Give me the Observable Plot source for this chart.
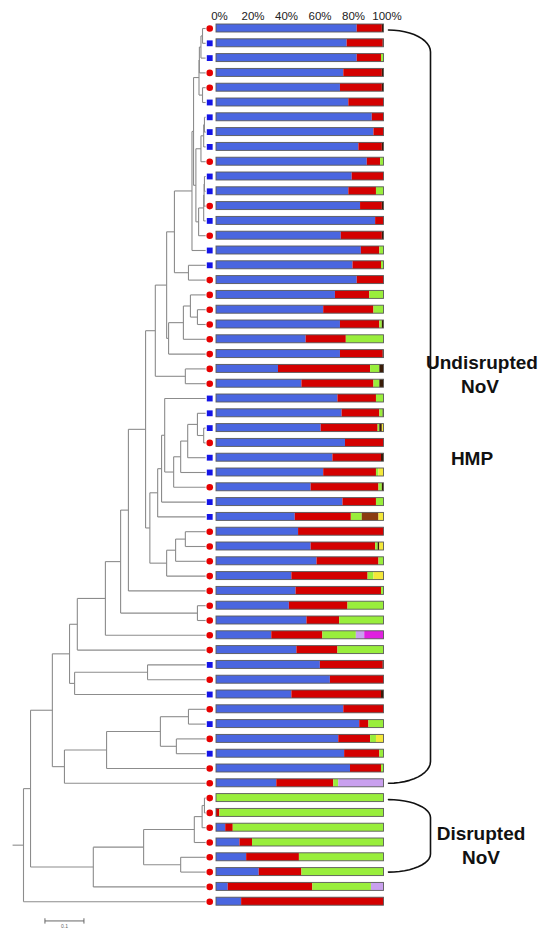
<!DOCTYPE html>
<html><head><meta charset="utf-8">
<script src="https://cdn.jsdelivr.net/npm/d3@7"></script>
<script src="https://cdn.jsdelivr.net/npm/@observablehq/plot@0.6"></script>
<style>
body{margin:0;background:#fff;}
#chart{position:relative;width:552px;height:930px;font-family:"Liberation Sans",Arial,sans-serif;overflow:hidden;}
#chart svg{position:absolute;left:0;top:0;}
.lab{position:absolute;width:140px;font-weight:bold;font-size:19px;color:#111;text-align:center;line-height:23px;}
</style></head><body><div id="chart"></div>
<script>
// ---------- data ----------
const seriesNames  = ["blue","red","green","dark","brown","yellow","lavender","magenta"];
const seriesColors = ["#4a66e0","#d40000","#99ee3c","#3a1c08","#8a3a10","#f4e83a","#c9a0ee","#e020e0"];
const pctTicks = [0,20,40,60,80,100];

const blue = [84,78,84,76,74,79,93,94,85,90, 81,79,86,95,74.5,86.5,81.5,84,71,64, 74,53.5,74,37,51,72.5,75,62.5,77,69.5, 64,56.5,75.5,47,49,56.5,60,45,47.5,43.5, 54,33,48,62,68,45,76,85.5,73,76.5, 80,36,0,0,5.5,14,18,25.5,7,15];
const red = [15,21.5,14.5,23,25,21,7,6,14,8, 19,16.5,13,5,24.5,11,17,16,20.5,30, 23.5,24,25.5,55,43,23,22.5,34,23,29, 31.5,40.5,20,33.5,51,38.5,37,45.5,51,35, 19.5,30.5,24.5,37.5,32,53.5,24,5.5,19,21, 18.5,34,0,2,4.5,7.5,31.5,25.5,50.5,85];
const green = [0,0,1.5,0,0,0,0,0,0,2, 0,4.5,0,0,0,2.5,1.5,0,8.5,6, 1.5,22.5,0,5.5,3.5,4.5,2,1,0,0, 1.5,2,4.5,6.5,0,1.5,3,3.5,1.5,21.5, 26.5,20,27.5,0,0,0,0,9,3.5,2.5, 1.5,3,100,98,90,78.5,50.5,49,35,0];
const dark = [1,0.5,0,1,1,0,0,0,1,0, 0,0,1,0,1,0,0,0,0,0, 1,0,0.5,2.5,2.5,0,0.5,1.5,0,1.5, 0,1,0,0,0,1,0,0,0,0, 0,0,0,0.5,0,1.5,0,0,0,0, 0,0,0,0,0,0,0,0,0,0];
const brown = [0,0,0,0,0,0,0,0,0,0, 0,0,0,0,0,0,0,0,0,0, 0,0,0,0,0,0,0,0,0,0, 0,0,0,10,0,0,0,0,0,0, 0,0,0,0,0,0,0,0,0,0, 0,0,0,0,0,0,0,0,0,0];
const yellow = [0,0,0,0,0,0,0,0,0,0, 0,0,0,0,0,0,0,0,0,0, 0,0,0,0,0,0,0,1,0,0, 3,0,0,3,0,2.5,0,6,0,0, 0,0,0,0,0,0,0,0,4.5,0, 0,0,0,0,0,0,0,0,0,0];
const lavender = [0,0,0,0,0,0,0,0,0,0, 0,0,0,0,0,0,0,0,0,0, 0,0,0,0,0,0,0,0,0,0, 0,0,0,0,0,0,0,0,0,0, 0,5,0,0,0,0,0,0,0,0, 0,27,0,0,0,0,0,0,7.5,0];
const magenta = [0,0,0,0,0,0,0,0,0,0, 0,0,0,0,0,0,0,0,0,0, 0,0,0,0,0,0,0,0,0,0, 0,0,0,0,0,0,0,0,0,0, 0,11.5,0,0,0,0,0,0,0,0, 0,0,0,0,0,0,0,0,0,0];

// sample type per row: c = red circle, s = blue square
const sampleType = ("cssccssssc" + "sscscssccc" + "cccccssscs" + "scsscccccc" + "cccscscscs" + "cccccccccc").split("");

// tree: [node, depth (branch-length units), child, child]; numbers are leaf rows
const tipDepth = 0.467;
const rootStem = 0.028;
const treeNodes = [
  ["n01",0.459,0,1], ["n2",0.455,"n01",2], ["n3",0.451,"n2",3], ["n45",0.459,4,5], ["n0_5",0.450,"n3","n45"],
  ["n67",0.464,6,7], ["n8",0.462,"n67",8], ["n9",0.455,"n8",9],
  ["n1011",0.464,10,11], ["n1012",0.463,"n1011",12], ["n1013",0.462,"n1012",13], ["n14",0.449,"n1013",14],
  ["n6_14",0.442,"n9","n14"], ["n0_14",0.436,"n0_5","n6_14"], ["n0_15",0.432,"n0_14",15],
  ["n1617",0.423,16,17], ["AA",0.387,"n0_15","n1617"],
  ["n1920",0.446,19,20], ["n18",0.428,18,"n1920"], ["n21",0.410,"n18",21], ["n22",0.372,"n21",22],
  ["EE",0.367,"AA","n22"], ["BB",0.415,23,24], ["CC",0.338,"EE","BB"],
  ["n2728",0.462,27,28], ["n26",0.446,26,"n2728"], ["n29",0.421,"n26",29], ["n30",0.403,"n29",30],
  ["n31",0.385,"n30",31], ["n25",0.362,25,"n31"], ["n32",0.354,"n25",32], ["n33",0.344,"n32",33],
  ["n3435",0.415,34,35], ["n36",0.390,"n3435",36], ["n37",0.367,"n36",37],
  ["X",0.324,"n33","n37"], ["W",0.313,"CC","X"], ["U",0.269,"W",38], ["V",0.446,39,40],
  ["T",0.249,"U","V"], ["R",0.210,"T",41], ["O",0.138,"R",42], ["Q",0.318,43,44], ["P",0.131,"Q",45],
  ["I",0.118,"O","P"], ["M",0.423,46,47], ["N",0.392,48,49], ["L",0.351,"M","N"], ["K",0.213,"L",50],
  ["J",0.105,"K",51], ["B",0.074,"I","J"],
  ["H",0.464,52,53], ["G",0.458,"H",54], ["E",0.438,"G",55], ["F",0.403,56,57], ["D",0.308,"E","F"],
  ["C",0.179,"D",58], ["A",0.018,"B","C"], ["root",0,"A",59]
];
const scaleBar = {start: 0.055, length: 0.1, label: "0.1", row: 60.3};

const groups = [
  {label: "Undisrupted NoV", from: 0, to: 51},
  {label: "Disrupted NoV", from: 52, to: 57}
];
const annotations = [
  {text: "Undisrupted", x: 482, y: 362},
  {text: "NoV", x: 480, y: 386},
  {text: "HMP", x: 472, y: 458},
  {text: "Disrupted", x: 481, y: 833},
  {text: "NoV", x: 481, y: 857}
];

// ---------- build ----------
const rowIds = d3.range(blue.length);
const seriesVals = {blue, red, green, dark, brown, yellow, lavender, magenta};
const table = [];
for (const s of seriesNames) for (const i of rowIds) if (seriesVals[s][i] > 0) table.push({row: i, series: s, value: seriesVals[s][i]});

// tree geometry
const nodeMap = new Map(treeNodes.map(d => [d[0], d]));
const pos = new Map();
function place(id) {
  if (typeof id === "number") return {x: tipDepth, y: id};
  if (pos.has(id)) return pos.get(id);
  const [, depth, a, b] = nodeMap.get(id);
  const pa = place(a), pb = place(b);
  const p = {x: depth, y: (pa.y + pb.y) / 2};
  pos.set(id, p);
  return p;
}
const segs = [];
for (const [id, depth, a, b] of treeNodes) {
  const pa = place(a), pb = place(b);
  place(id);
  segs.push({x1: depth, x2: depth, y1: pa.y, y2: pb.y});
  segs.push({x1: depth, x2: pa.x, y1: pa.y, y2: pa.y});
  segs.push({x1: depth, x2: pb.x, y1: pb.y, y2: pb.y});
}
const rootP = place("root");
segs.push({x1: -rootStem, x2: 0, y1: rootP.y, y2: rootP.y});

const markerDepth = tipDepth + 0.0105;

const chart = document.getElementById("chart");

const barPlot = Plot.plot({
  width: 552, height: 930,
  marginTop: 22, marginBottom: 0, marginLeft: 0, marginRight: 0,
  style: {fontFamily: "'Liberation Sans', Arial, sans-serif", color: "#222", background: "transparent"},
  x: {domain: [0, 100], range: [216, 383.5], label: null},
  y: {type: "band", domain: rowIds, range: [20.6, 908.6], paddingInner: 0.46, paddingOuter: 0.23, axis: null},
  color: {domain: seriesNames, range: seriesColors},
  marks: [
    Plot.barX(table, {x: "value", y: "row", fill: "series", order: seriesNames}),
    Plot.barX(rowIds, {x1: 0, x2: 100, y: d => d, fill: "none", stroke: "#5a5a5a", strokeWidth: 0.9}),
    Plot.axisX(pctTicks, {anchor: "top", label: null, tickSize: 0, tickPadding: 3, dx: 3, fontSize: 11.5, tickFormat: d => d + "%"})
  ]
});

const treePlot = Plot.plot({
  width: 552, height: 930, margin: 0,
  style: {background: "transparent", fontFamily: "'Liberation Sans', Arial, sans-serif"},
  x: {domain: [0, 0.5], range: [23, 218], axis: null},
  y: {domain: [0, 59], range: [28, 901.2], axis: null},
  marks: [
    Plot.link(segs, {x1: "x1", x2: "x2", y1: "y1", y2: "y2", stroke: "#8c8c8c", strokeWidth: 1.1}),
    Plot.dot(rowIds, {x: markerDepth, y: d => d, r: 3.3,
      symbol: d => sampleType[d] === "c" ? "circle" : "square",
      fill: d => sampleType[d] === "c" ? "#e60000" : "#1414e6"}),
    Plot.link([scaleBar], {x1: d => d.start, x2: d => d.start + d.length, y1: d => d.row, y2: d => d.row, stroke: "#666", strokeWidth: 1}),
    Plot.link([scaleBar.start, scaleBar.start + scaleBar.length], {x1: d => d, x2: d => d, y1: scaleBar.row - 0.18, y2: scaleBar.row + 0.18, stroke: "#666", strokeWidth: 1}),
    Plot.text([scaleBar], {x: d => d.start + d.length / 2, y: d => d.row + 0.4, text: "label", fontSize: 5, fill: "#666"})
  ]
});

// brackets built from the row groups through the bar plot's y scale
const ys = barPlot.scale("y");
const yc = r => ys.apply(r) + ys.bandwidth / 2;
const brPts = [];
groups.forEach((g, gi) => {
  const top = yc(g.from) + 1.5, bot = yc(g.to);
  const x0 = 388, rx = 42, ry = Math.min(22, (bot - top) / 4);
  const n = 12;
  for (let k = 0; k <= n; k++) { const t = Math.PI / 2 * k / n; brPts.push({g: gi, x: x0 + rx * Math.sin(t), y: top + ry * (1 - Math.cos(t))}); }
  for (let k = n; k >= 0; k--) { const t = Math.PI / 2 * k / n; brPts.push({g: gi, x: x0 + rx * Math.sin(t), y: bot - ry * (1 - Math.cos(t))}); }
});
const bracketPlot = Plot.plot({
  width: 552, height: 930, margin: 0,
  style: {background: "transparent"},
  x: {type: "identity", axis: null}, y: {type: "identity", axis: null},
  marks: [Plot.line(brPts, {x: "x", y: "y", z: "g", stroke: "#111", strokeWidth: 1.6})]
});

chart.append(treePlot, barPlot, bracketPlot);
for (const a of annotations) {
  const div = document.createElement("div");
  div.className = "lab";
  div.textContent = a.text;
  div.style.left = (a.x - 70) + "px";
  div.style.top = (a.y - 11.5) + "px";
  chart.append(div);
}
</script></body></html>
